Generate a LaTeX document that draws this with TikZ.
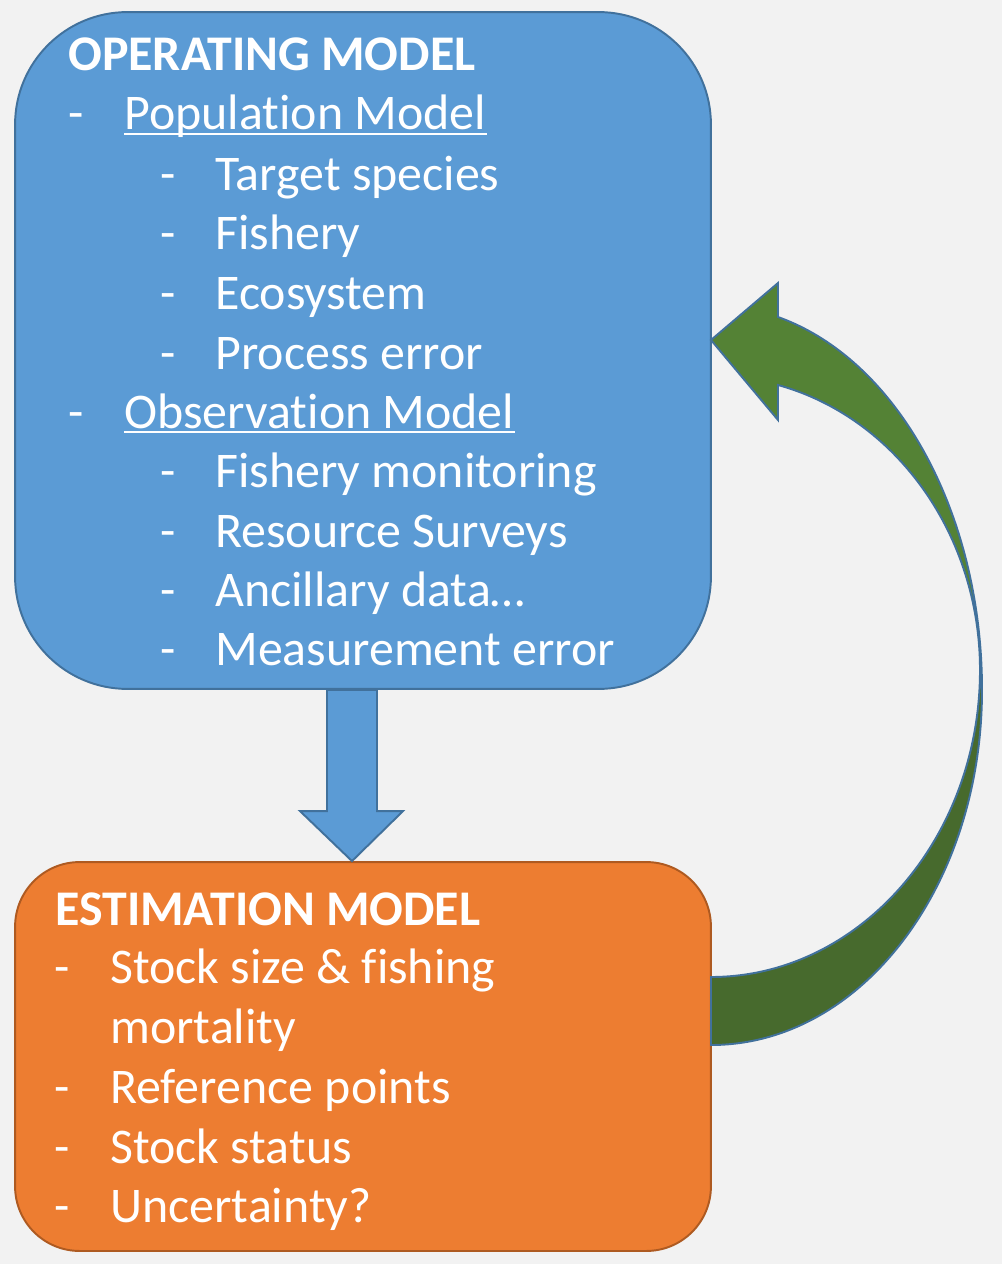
\documentclass[tikz,border=0pt]{standalone}
\usepackage{fontspec}
\setmainfont{Carlito}[Ligatures={NoCommon}]
\usetikzlibrary{calc, positioning}

\definecolor{OMBlue}{HTML}{5B9BD5}
\definecolor{OMBlueLine}{HTML}{41719C}
\definecolor{EMOrange}{HTML}{ED7D31}
\definecolor{EMOrangeLine}{HTML}{AE5A21}
\definecolor{LoopGreen}{HTML}{548235}
\definecolor{LoopGreenDark}{HTML}{476A2D}
\definecolor{PageGray}{HTML}{F2F2F2}

\begin{document}
\begin{tikzpicture}[x=0.02cm, y=-0.02cm,
        model/.style={rectangle, line width=1.1pt, minimum width=13.92cm},
        item/.style={anchor=base west, inner sep=0, text=white,
                     font=\fontsize{28.4}{34}\selectfont},
        head/.style={item, font=\fontsize{28.4}{34}\selectfont\bfseries},
        block/.style={line width=1.1pt, line join=miter}]

            \fill[PageGray] (0,0) rectangle (1002,1264);
            \useasboundingbox (0,0) rectangle (1002,1264);

            % the two model boxes
            \node[model, draw=OMBlueLine, fill=OMBlue, rounded corners=64pt,
                  minimum height=13.54cm] (opModel) at (363,350.5) {};
            \node[model, draw=EMOrangeLine, fill=EMOrange, rounded corners=36.8pt,
                  minimum height=7.78cm] (estModel) at (363,1056.5) {};

            % block arrow from the operating model down to the estimation model
            \coordinate (dX) at (352,0);
            \path (opModel.south -| dX) coordinate (dTop)
                  (estModel.north -| dX) coordinate (dTip);
            \draw[block, draw=OMBlueLine, fill=OMBlue] 
                ($(dTop)+(-25,0)$) -- ($(dTip)+(-25,-50)$) -- ($(dTip)+(-52,-50)$) 
                -- (dTip) -- ($(dTip)+(51,-50)$) -- ($(dTip)+(25,-50)$) 
                -- ($(dTop)+(25,0)$) -- cycle;

            % curved feedback arrow, back part first
            \draw[block, draw=OMBlueLine, fill=LoopGreenDark] 
                (711,1045) .. controls (861,1045) and (982,886) .. (982,690)
                -- (980,670) .. controls (980,839) and (859,977) .. (711,977) -- cycle;
            \draw[block, draw=OMBlueLine, fill=LoopGreen] 
                (982,690) .. controls (982,514) and (898,360) .. (778,317)
                -- (778,283) -- (711,340) -- (778,420) -- (778,385)
                .. controls (897,418) and (980,536) .. (980,670) -- cycle;

            % operating model text
            \node[head] (omTitle) at (68,71) {OPERATING MODEL};
            \node[item] (popDash) at (68,130) {-};
            \node[item] (popModel) at (124,130) {Population Model};
            \node[item] (tsDash) at (160,190) {-};
            \node[item] (target) at (215,190) {Target species};
            \node[item] (fiDash) at (160,249) {-};
            \node[item] (fishery) at (215,249) {Fishery};
            \node[item] (ecDash) at (160,309) {-};
            \node[item] (ecosystem) at (215,309) {Ecosystem};
            \node[item] (peDash) at (160,369) {-};
            \node[item] (procErr) at (215,369) {Process error};
            \node[item] (obsDash) at (68,428) {-};
            \node[item] (obsModel) at (124,428) {Observation Model};
            \node[item] (fmDash) at (160,487) {-};
            \node[item] (monitor) at (215,487) {Fishery monitoring};
            \node[item] (rsDash) at (160,547) {-};
            \node[item] (surveys) at (215,547) {Resource Surveys};
            \node[item] (adDash) at (160,606) {-};
            \node[item] (ancillary) at (215,606) {Ancillary data…};
            \node[item] (meDash) at (160,665) {-};
            \node[item] (measErr) at (215,665) {Measurement error};

            \draw[white, line width=1.1pt] ([yshift=-2.5pt]popModel.base west) -- ([yshift=-2.5pt]popModel.base east);
            \draw[white, line width=1.1pt] ([yshift=-2.5pt]obsModel.base west) -- ([yshift=-2.5pt]obsModel.base east);

            % estimation model text
            \node[head] (emTitle) at (55,925) {ESTIMATION MODEL};
            \node[item] (ssDash) at (54,983) {-};
            \node[item] (stockSize) at (110,983) {Stock size \& fishing};
            \node[item] (mortality) at (110,1043) {mortality};
            \node[item] (rpDash) at (54,1103) {-};
            \node[item] (refPoints) at (110,1103) {Reference points};
            \node[item] (stDash) at (54,1163) {-};
            \node[item] (status) at (110,1163) {Stock status};
            \node[item] (unDash) at (54,1222) {-};
            \node[item] (uncert) at (110,1222) {Uncertainty?};

        \end{tikzpicture}
\end{document}
